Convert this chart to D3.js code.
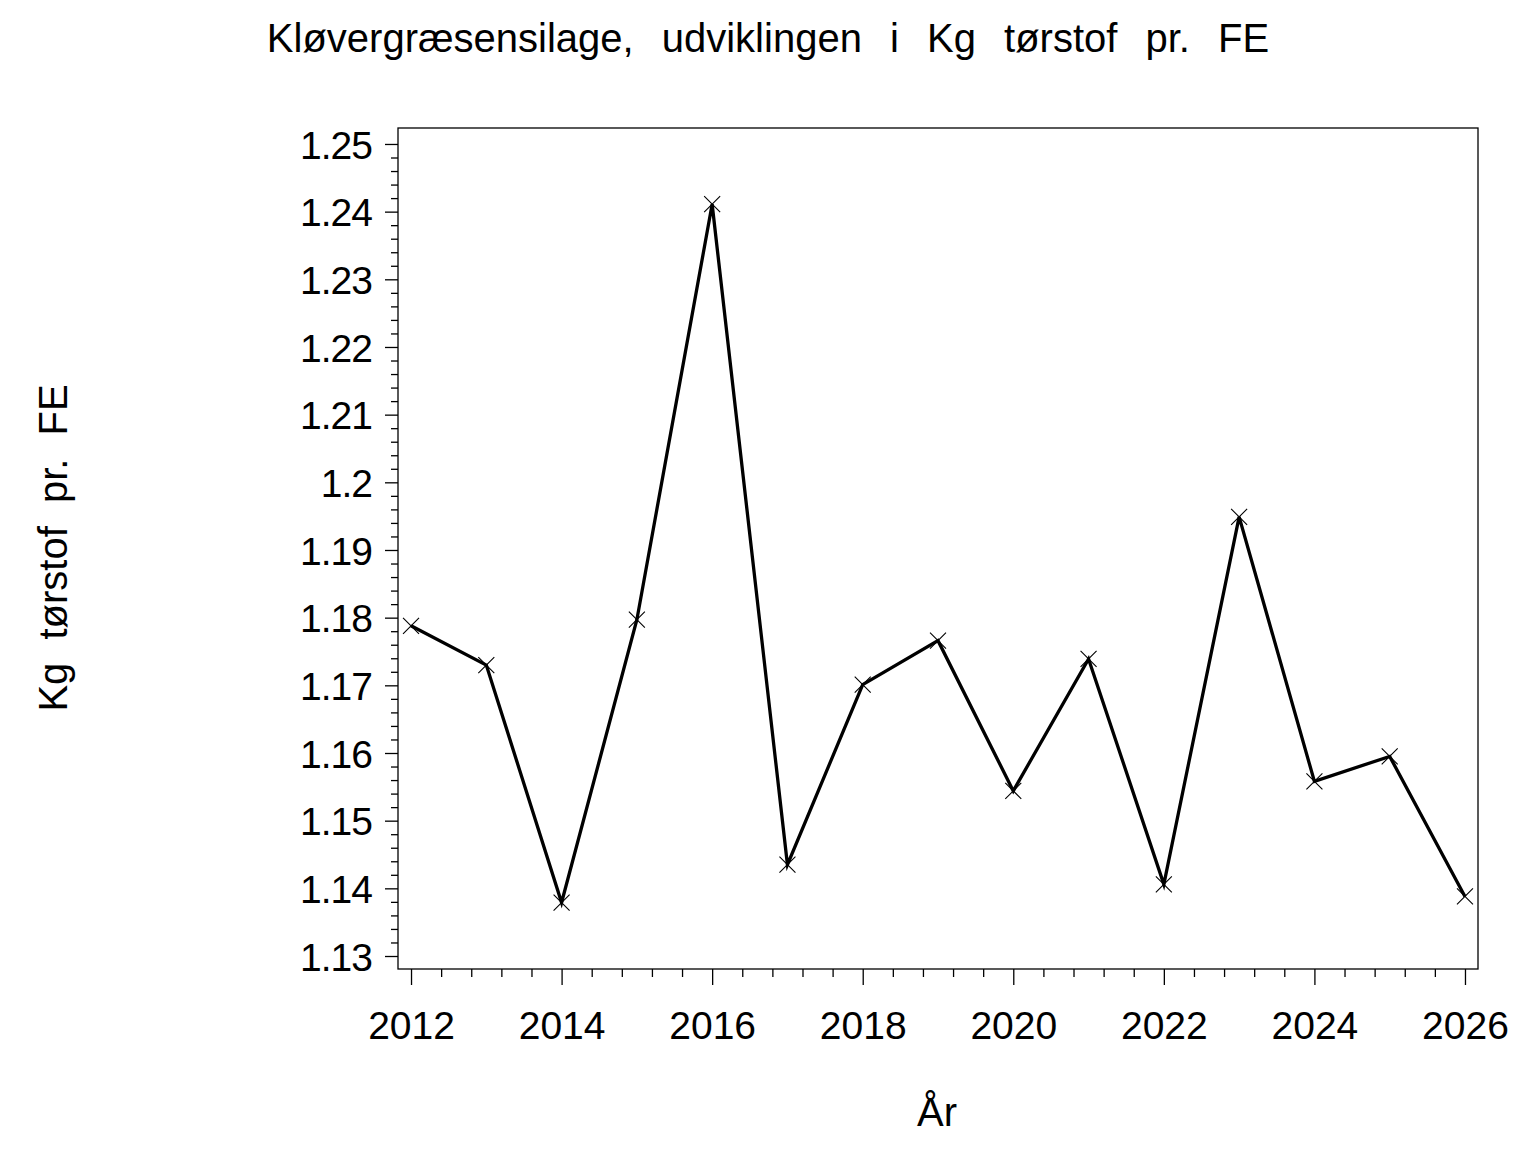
<!DOCTYPE html>
<html>
<head>
<meta charset="utf-8">
<script src="https://cdn.jsdelivr.net/npm/d3@7"></script>
<style>
  body { margin: 0; background: #fff; }
  svg { display: block; }
  text { font-family: "Liberation Sans", Arial, sans-serif; fill: #000; }
</style>
</head>
<body>
<script>
// values
var years = [2012, 2013, 2014, 2015, 2016, 2017, 2018, 2019, 2020, 2021, 2022, 2023, 2024, 2025, 2026];
var kgPerFE = [1.1788, 1.1730, 1.1379, 1.1797, 1.2411, 1.1435, 1.1701, 1.1766, 1.1544, 1.1739,
               1.1406, 1.1949, 1.1558, 1.1595, 1.1388];
var xMajorTicks = [2012, 2014, 2016, 2018, 2020, 2022, 2024, 2026];
var yMajorTicks = [1.13, 1.14, 1.15, 1.16, 1.17, 1.18, 1.19, 1.2, 1.21, 1.22, 1.23, 1.24, 1.25];
var titleText = "Kløvergræsensilage, udviklingen i Kg tørstof pr. FE";
var xLabel = "År";
var yLabel = "Kg tørstof pr. FE";

var W = 1536, H = 1152;
var plot = { left: 398, right: 1478, top: 128, bottom: 969 };

var svg = d3.select("body").append("svg")
    .attr("width", W)
    .attr("height", H);

var x = d3.scaleLinear()
    .domain([2011.827, 2026.173])
    .range([plot.left, plot.right]);

var y = d3.scaleLinear()
    .domain([1.12808, 1.25236])
    .range([plot.bottom, plot.top]);

// minor ticks: every 0.4 yr on x, every 0.002 on y
var xMinor = d3.range(0, 36).map(function(i) { return 2012 + i * 0.4; })
    .filter(function(v) { return v <= 2026.01 && Math.abs(v - Math.round(v / 2) * 2) > 0.01; });
var yMinor = d3.range(0, 61).map(function(i) { return 1.13 + i * 0.002; })
    .filter(function(v) { return Math.abs(v * 100 - Math.round(v * 100)) > 0.01; });

// frame
svg.append("rect")
    .attr("x", plot.left)
    .attr("y", plot.top)
    .attr("width", plot.right - plot.left)
    .attr("height", plot.bottom - plot.top)
    .attr("fill", "none")
    .attr("stroke", "#000")
    .attr("stroke-width", 1.3);

// x axis
var xAxis = svg.append("g")
    .attr("class", "x axis")
    .attr("transform", "translate(0," + plot.bottom + ")")
    .call(d3.axisBottom(x).tickValues(xMajorTicks).tickSize(16).tickPadding(26).tickFormat(d3.format("d")));
svg.append("g")
    .attr("transform", "translate(0," + plot.bottom + ")")
    .call(d3.axisBottom(x).tickValues(xMinor).tickSize(8).tickFormat(""));

// y axis
var yAxis = svg.append("g")
    .attr("class", "y axis")
    .attr("transform", "translate(" + plot.left + ",0)")
    .call(d3.axisLeft(y).tickValues(yMajorTicks).tickSize(13).tickPadding(13)
        .tickFormat(function(d) { return String(+d.toFixed(2)); }));
svg.append("g")
    .attr("transform", "translate(" + plot.left + ",0)")
    .call(d3.axisLeft(y).tickValues(yMinor).tickSize(7).tickFormat(""));

svg.selectAll(".domain").remove();
svg.selectAll(".tick line").attr("stroke", "#000").attr("stroke-width", 1.3);
xAxis.selectAll(".tick text")
    .attr("font-size", 39)
    .attr("dy", "0.71em");
yAxis.selectAll(".tick text")
    .attr("font-size", 39)
    .attr("letter-spacing", -1)
    .attr("dy", "0.36em");

// the line
var pts = years.map(function(d, i) { return { yr: d, v: kgPerFE[i] }; });
var line = d3.line()
    .x(function(d) { return x(d.yr); })
    .y(function(d) { return y(d.v); });

svg.append("path")
    .datum(pts)
    .attr("d", line)
    .attr("fill", "none")
    .attr("stroke", "#000")
    .attr("stroke-width", 3.3)
    .attr("stroke-linejoin", "miter");

// x markers
var r = 8;
svg.selectAll(".marker")
    .data(pts)
  .enter().append("path")
    .attr("class", "marker")
    .attr("d", function(d) {
        var cx = x(d.yr), cy = y(d.v);
        return "M" + (cx - r) + "," + (cy - r) + "L" + (cx + r) + "," + (cy + r) +
               "M" + (cx - r) + "," + (cy + r) + "L" + (cx + r) + "," + (cy - r);
    })
    .attr("stroke", "#000")
    .attr("stroke-width", 1.1)
    .attr("fill", "none");

// titles
svg.append("text")
    .attr("x", 768)
    .attr("y", 52)
    .attr("text-anchor", "middle")
    .attr("font-size", 40)
    .attr("word-spacing", 17)
    .text(titleText);

svg.append("text")
    .attr("x", 937)
    .attr("y", 1126)
    .attr("text-anchor", "middle")
    .attr("font-size", 40)
    .text(xLabel);

svg.append("text")
    .attr("transform", "translate(67,548) rotate(-90)")
    .attr("text-anchor", "middle")
    .attr("font-size", 40)
    .attr("word-spacing", 12)
    .text(yLabel);
</script>
</body>
</html>
